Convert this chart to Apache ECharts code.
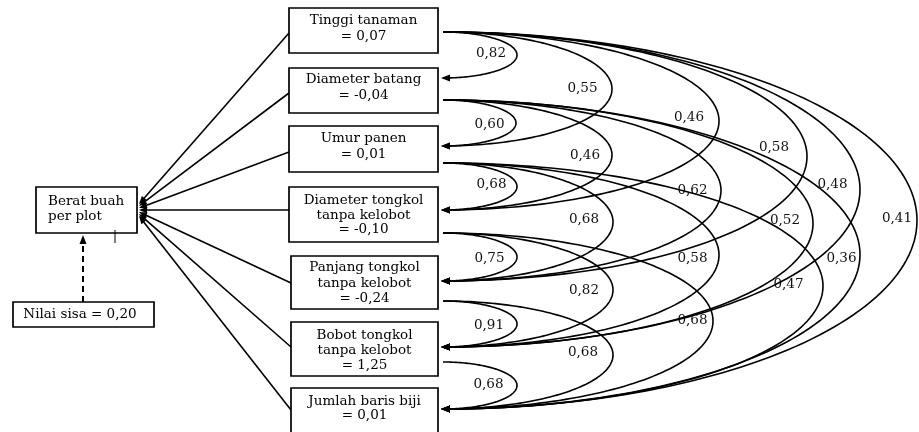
<!DOCTYPE html>
<html>
<head>
<meta charset="utf-8">
<script src="https://cdn.jsdelivr.net/npm/echarts@6.0.0/dist/echarts.min.js"></script>
<style>
html,body{margin:0;padding:0;background:#fff;}
#chart{width:919px;height:432px;}
</style>
</head>
<body>
<div id="chart"></div>
<script>
// ---------------- DATA ----------------
const targetName = 'Berat buah\nper plot';
const variables = [
  'Tinggi tanaman',
  'Diameter batang',
  'Umur panen',
  'Diameter tongkol\ntanpa kelobot',
  'Panjang tongkol\ntanpa kelobot',
  'Bobot tongkol\ntanpa kelobot',
  'Jumlah baris biji'
];
const directEffects = [0.07, -0.04, 0.01, -0.10, -0.24, 1.25, 0.01];
const residualLabel = 'Nilai sisa';
const residualValue = 0.20;
const corrFrom   = [0, 1, 2, 3, 4, 5,  0, 1, 2, 3, 4,  0, 1, 2, 3,  0, 1, 2,  0, 1,  0];
const corrTo     = [1, 2, 3, 4, 5, 6,  2, 3, 4, 5, 6,  3, 4, 5, 6,  4, 5, 6,  5, 6,  6];
const corrValues = [0.82, 0.60, 0.68, 0.75, 0.91, 0.68,
                    0.55, 0.46, 0.68, 0.82, 0.68,
                    0.46, 0.62, 0.58, 0.68,
                    0.58, 0.52, 0.47,
                    0.48, 0.36,
                    0.41];

// ---------------- LAYOUT (diagram geometry) ----------------
const L = {
  boxLeft:   [289, 289, 289, 289, 291, 291, 291],
  boxRight:  438,
  boxTop:    [8, 68, 126, 187, 256, 322, 388],
  boxBottom: [53, 113, 172, 242, 309, 376, 446],
  textY:     [28.5, 87.5, 146.5, 215, 283, 350, 408],
  lineH:     [16, 16, 16, 14.5, 15.5, 15, 14],
  entryY:    [33, 93, 152, 210, 283, 347, 410],
  tipX: 139,
  tipY:      [204, 206, 208, 210, 212, 214, 216],
  arcStartX: 443,
  arcTipX: 441,
  arcStartY: [32, 100, 163, 233, 301, 362, null],
  arcEndY:   [null, 78, 146, 210, 281, 347, 409],
  arcReach:  [517, 516, 517, 517, 517, 517,
              612, 612, 613, 613, 613,
              719, 721, 719, 713,
              807, 813, 823,
              860, 860,
              917],
  labelDX:   [26, 26.5, 25.5, 27.5, 28, 28.5,
              29.5, 27, 29, 29, 30,
              30, 28.5, 26.5, 20.5,
              33, 28, 34.5,
              27.5, 18.5,
              20],
  labelDY:   [-1.5, 1, -2.5, 1, 1.5, -1,
              -1, 0, -2.5, 0, -3,
              -4, -0.5, 3, -1,
              -9.5, -3, -2,
              -5.5, 3.5,
              -2.5],
  target: {x0: 36, x1: 137, y0: 187, y1: 233, textX: 48, textY: 208.5},
  resid:  {x0: 13, x1: 154, y0: 302, y1: 327, textX: 80, textY: 314.5, arrowX: 83, arrowTip: 235},
  tick:   {x: 115, y0: 230, y1: 243}
};

const FONT = 'DejaVu Serif';
const INK = '#000';

function fmt(v) { return v.toFixed(2).replace('.', ','); }

function arrowHead(tip, dir, len, half) {
  const n = [-dir[1], dir[0]];
  const bx = tip[0] - dir[0] * len, by = tip[1] - dir[1] * len;
  return [tip, [bx + n[0] * half, by + n[1] * half], [bx - n[0] * half, by - n[1] * half]];
}

// Boxes for the seven variables
function renderBoxes(params, api) {
  const i = params.dataIndex;
  const p0 = api.coord([L.boxLeft[i], L.boxTop[i]]);
  const p1 = api.coord([L.boxRight, L.boxBottom[i]]);
  const tc = api.coord([(L.boxLeft[i] + L.boxRight) / 2, L.textY[i]]);
  return {
    type: 'group',
    children: [
      {type: 'rect', shape: {x: p0[0], y: p0[1], width: p1[0] - p0[0], height: p1[1] - p0[1]},
       style: {fill: '#fff', stroke: INK, lineWidth: 1.7}},
      {type: 'text', style: {text: variables[i] + '\n= ' + fmt(directEffects[i]), x: tc[0], y: tc[1],
        align: 'center', verticalAlign: 'middle', fontSize: 13.5, fontFamily: FONT,
        lineHeight: L.lineH[i], fill: '#000'}}
    ]
  };
}

// Direct path arrows from each variable to the target
function renderPaths(params, api) {
  const i = params.dataIndex;
  const a = api.coord([L.boxLeft[i], L.entryY[i]]);
  const b = api.coord([L.tipX, L.tipY[i]]);
  const dx = b[0] - a[0], dy = b[1] - a[1];
  const len = Math.sqrt(dx * dx + dy * dy);
  const u = [dx / len, dy / len];
  const base = [b[0] - u[0] * 6, b[1] - u[1] * 6];
  return {
    type: 'group',
    children: [
      {type: 'line', shape: {x1: a[0], y1: a[1], x2: base[0], y2: base[1]},
       style: {stroke: INK, lineWidth: 1.6}},
      {type: 'polygon', shape: {points: arrowHead(b, u, 8, 3.2)}, style: {fill: INK}}
    ]
  };
}

// Correlation arcs
function renderArcs(params, api) {
  const k = params.dataIndex;
  const f = corrFrom[k], t = corrTo[k];
  const ys = L.arcStartY[f], ye = L.arcEndY[t];
  const x0 = L.arcStartX, reach = L.arcReach[k];
  const cy = (ys + ye) / 2, b = (ye - ys) / 2, a = reach - x0;
  const pts = [];
  const N = 120;
  for (let s = 0; s <= N; s++) {
    const th = -Math.PI / 2 + Math.PI * s / N;
    pts.push(api.coord([x0 + a * Math.cos(th), cy + b * Math.sin(th)]));
  }
  const tip = api.coord([L.arcTipX, ye]);
  const lp = api.coord([reach - L.labelDX[k], cy + L.labelDY[k]]);
  return {
    type: 'group',
    children: [
      {type: 'polyline', shape: {points: pts}, style: {stroke: INK, lineWidth: 1.6, fill: null}},
      {type: 'polygon', shape: {points: arrowHead(tip, [-1, 0], 9, 3.4)}, style: {fill: INK}},
      {type: 'text', style: {text: fmt(corrValues[k]), x: lp[0], y: lp[1], align: 'center',
        verticalAlign: 'middle', fontSize: 13.5, fontFamily: FONT, fill: '#111'}}
    ]
  };
}

// Target box, residual box, dashed residual arrow
function renderTarget(params, api) {
  const T = L.target, R = L.resid;
  const t0 = api.coord([T.x0, T.y0]), t1 = api.coord([T.x1, T.y1]);
  const tt = api.coord([T.textX, T.textY]);
  const r0 = api.coord([R.x0, R.y0]), r1 = api.coord([R.x1, R.y1]);
  const rt = api.coord([R.textX, R.textY]);
  const aTail = api.coord([R.arrowX, R.y0]);
  const aTip = api.coord([R.arrowX, R.arrowTip]);
  const k0 = api.coord([L.tick.x, L.tick.y0]), k1 = api.coord([L.tick.x, L.tick.y1]);
  return {
    type: 'group',
    children: [
      {type: 'rect', shape: {x: t0[0], y: t0[1], width: t1[0] - t0[0], height: t1[1] - t0[1]},
       style: {fill: '#fff', stroke: INK, lineWidth: 1.7}},
      {type: 'text', style: {text: targetName, x: tt[0], y: tt[1], align: 'left', verticalAlign: 'middle',
        fontSize: 13.5, fontFamily: FONT, lineHeight: 15, fill: '#000'}},
      {type: 'line', shape: {x1: k0[0], y1: k0[1], x2: k1[0], y2: k1[1]}, style: {stroke: INK, lineWidth: 1}},
      {type: 'rect', shape: {x: r0[0], y: r0[1], width: r1[0] - r0[0], height: r1[1] - r0[1]},
       style: {fill: '#fff', stroke: INK, lineWidth: 1.7}},
      {type: 'text', style: {text: residualLabel + ' = ' + fmt(residualValue), x: rt[0], y: rt[1],
        align: 'center', verticalAlign: 'middle', fontSize: 13.5, fontFamily: FONT, fill: '#000'}},
      {type: 'line', shape: {x1: aTail[0], y1: aTail[1], x2: aTip[0], y2: aTip[1] + 7},
       style: {stroke: INK, lineWidth: 2, lineDash: [6, 4]}},
      {type: 'polygon', shape: {points: arrowHead(aTip, [0, -1], 9, 3.5)}, style: {fill: INK}}
    ]
  };
}

const chart = echarts.init(document.getElementById('chart'), null, {renderer: 'canvas'});
chart.setOption({
  animation: false,
  backgroundColor: '#fff',
  grid: {left: 0, right: 0, top: 0, bottom: 0},
  xAxis: {type: 'value', min: 0, max: 919, show: false},
  yAxis: {type: 'value', min: 0, max: 432, inverse: true, show: false},
  series: [
    {type: 'custom', name: 'paths', clip: false, renderItem: renderPaths,
     data: variables.map((v, i) => [i, i])},
    {type: 'custom', name: 'correlations', clip: false, renderItem: renderArcs,
     data: corrValues.map((v, i) => [i, v])},
    {type: 'custom', name: 'variables', clip: false, renderItem: renderBoxes,
     data: variables.map((v, i) => [i, i])},
    {type: 'custom', name: 'target', clip: false, renderItem: renderTarget,
     data: [[0, residualValue]]}
  ]
});
</script>
</body>
</html>
